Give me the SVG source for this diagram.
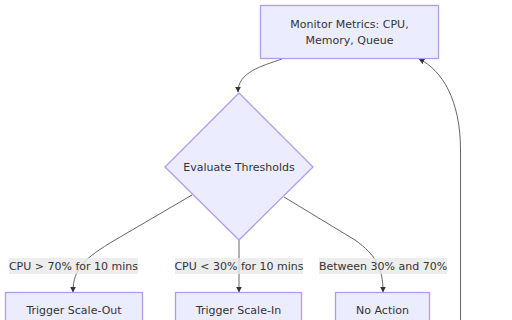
<svg xmlns="http://www.w3.org/2000/svg" width="512" height="320" viewBox="0 0 512 320">
<style>
.node{fill:#ECECFF;stroke:#b39ceb;stroke-width:1.3}
.t{font-family:"DejaVu Sans",sans-serif;font-size:11px;fill:#333;text-anchor:middle}
.e{fill:none;stroke:#666;stroke-width:1}
.lb{fill:#e8e8e8;opacity:0.8}
</style>
<defs>
<marker id="ah" viewBox="0 0 10 10" refX="9" refY="5" markerWidth="6" markerHeight="6" markerUnits="userSpaceOnUse" orient="auto">
<path d="M0,0 L10,5 L0,10 z" fill="#333"/>
</marker>
</defs>
<rect width="512" height="320" fill="#fff"/>
<g id="edges">
<path class="e" d="M282,59 C262,66 238,72 238,92" marker-end="url(#ah)"/>
<path class="e" d="M192,195 L115,240 C85,258 73,268 73,292" marker-end="url(#ah)"/>
<path class="e" d="M239,240 L239,292" marker-end="url(#ah)"/>
<path class="e" d="M284,197 L355,240 C376,255 383,268 383,292" marker-end="url(#ah)"/>
<path class="e" d="M460.5,320 L460.5,150 C460.5,100 442,70 419,59" marker-end="url(#ah)"/>
</g>
<g id="edge-labels">
<rect class="lb" x="9" y="258" width="129" height="16"/>
<text class="t" x="73.5" y="270">CPU &gt; 70% for 10 mins</text>
<rect class="lb" x="175" y="258" width="128" height="16"/>
<text class="t" x="239" y="270">CPU &lt; 30% for 10 mins</text>
<rect class="lb" x="319" y="258" width="128" height="16"/>
<text class="t" x="383" y="270">Between 30% and 70%</text>
</g>
<g id="monitor">
<rect class="node" x="260.5" y="5.5" width="178" height="53"/>
<text class="t" x="349.5" y="28">Monitor Metrics: CPU,</text>
<text class="t" x="349.5" y="44">Memory, Queue</text>
</g>
<g id="evaluate">
<polygon class="node" points="239,93 313,167 239,240 165,167"/>
<text class="t" x="239" y="171">Evaluate Thresholds</text>
</g>
<g id="scaleout">
<rect class="node" x="5.5" y="292.5" width="137" height="40"/>
<text class="t" x="74" y="314">Trigger Scale-Out</text>
</g>
<g id="scalein">
<rect class="node" x="175.5" y="292.5" width="126" height="40"/>
<text class="t" x="238.5" y="314">Trigger Scale-In</text>
</g>
<g id="noaction">
<rect class="node" x="335.5" y="292.5" width="94" height="40"/>
<text class="t" x="382.5" y="314">No Action</text>
</g>
</svg>
